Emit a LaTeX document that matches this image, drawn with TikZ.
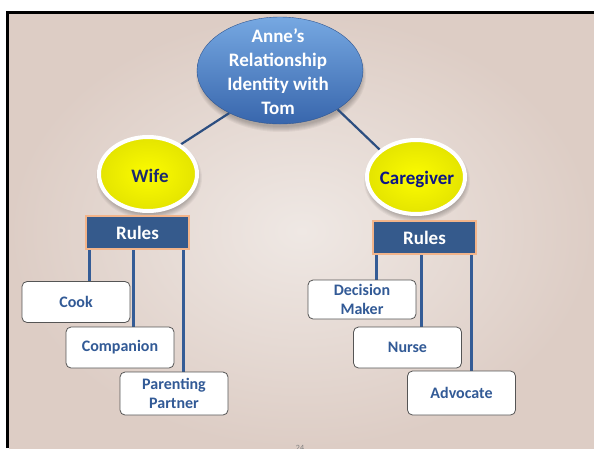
\documentclass[tikz,border=0pt]{standalone}
\usepackage{fontspec}
\setmainfont{Carlito}
\usetikzlibrary{shapes.geometric}

\definecolor{bgin}{RGB}{239,232,228}
\definecolor{bgout}{RGB}{221,205,197}
\definecolor{blueTop}{RGB}{118,168,226}
\definecolor{blueBot}{RGB}{56,102,172}
\definecolor{linkblue}{RGB}{44,78,128}
\definecolor{rulefill}{RGB}{53,90,140}
\definecolor{ruleedge}{RGB}{242,180,138}
\definecolor{stemblue}{RGB}{52,92,150}
\definecolor{boxtext}{RGB}{50,90,150}
\definecolor{boxedge}{RGB}{85,85,85}
\definecolor{yelIn}{RGB}{252,252,0}
\definecolor{yelOut}{RGB}{228,228,0}
\definecolor{wifetext}{RGB}{28,42,110}
\definecolor{caretext}{RGB}{12,22,135}

\pgfdeclarelayer{back}
\pgfdeclarelayer{links}
\pgfsetlayers{back,links,main}

\begin{document}
\begin{tikzpicture}[x=1pt,y=-1pt,
  hub/.style={ellipse, minimum width=166pt, minimum height=107pt, inner sep=0pt,
    top color=blueTop, bottom color=blueBot, draw=blueBot!85!black, line width=0.4pt},
  hubtext/.style={text=white, font=\fontsize{19}{24}\selectfont\bfseries,
    align=center, inner sep=0pt},
  role/.style={ellipse, minimum width=98pt, minimum height=74pt, inner sep=0pt,
    inner color=yelIn, outer color=yelOut, draw=white, line width=4pt},
  roletext/.style={font=\fontsize{19}{23}\selectfont\bfseries, inner sep=0pt},
  rulebox/.style={rectangle, minimum width=103pt, minimum height=33pt, inner sep=0pt,
    fill=rulefill, draw=ruleedge, line width=1.2pt, text=white,
    font=\fontsize{19}{23}\selectfont\bfseries},
  item/.style={rectangle, rounded corners=5pt, minimum width=108pt, minimum height=41pt,
    inner sep=0pt, fill=white, draw=boxedge, line width=0.8pt, text=boxtext,
    align=center, font=\fontsize{16}{19.5}\selectfont\bfseries},
  link/.style={draw=linkblue, line width=2.2pt},
  stem/.style={draw=stemblue, line width=3pt},
  softshadow/.style={fill=black, opacity=0.045},
]
\useasboundingbox (0,0) rectangle (594,448);

% slide backdrop and frame
\begin{pgfonlayer}{back}
  \fill[white] (0,0) rectangle (594,448);
  \shade[inner color=bgin, outer color=bgout] (9,14) rectangle (594,448);
  \draw[line width=3pt] (7.5,448) -- (7.5,12) -- (594,12);
  % soft shadows under the ellipses
  \foreach \k in {0,...,5} {
    \fill[softshadow] (281,76) ellipse [x radius={80+\k}, y radius={51+\k}];
    \fill[softshadow] (149,178) ellipse [x radius={48+\k}, y radius={36+\k}];
    \fill[softshadow] (417,181) ellipse [x radius={48+\k}, y radius={36+\k}];
  }
\end{pgfonlayer}

% top concept
\node[hub] (anne) at (280,70.5) {};
\node[hubtext] (annetext) at (278,72) {Anne’s\\Relationship\\Identity with\\Tom};

% the two roles
\node[role] (wife) at (148,174) {};
\node[roletext, text=wifetext] (wifetext) at (150,176) {Wife};
\node[role] (care) at (416,177) {};
\node[roletext, text=caretext] (caretext) at (417,179) {Caregiver};

% rule headers
\node[rulebox] (rulesL) at (137.5,232.5) {Rules};
\node[rulebox] (rulesR) at (424.5,237.5) {Rules};

% wife rules
\node[item] (cook) at (76,302) {Cook};
\node[item] (companion) at (120,347.5) {Companion};
\node[item, minimum height=43pt] (parenting) at (174,393.5) {Parenting\\Partner};

% caregiver rules
\node[item, minimum height=39pt] (decision) at (362,299.5) {Decision\\Maker};
\node[item] (nurse) at (407.5,347.5) {Nurse};
\node[item, minimum height=44pt] (advocate) at (461.5,393) {Advocate};

% connectors
\begin{pgfonlayer}{links}
  \draw[link] (anne.220) -- (wife.42);
  \draw[link] (anne.326) -- (care.143);

  \draw[stem] ([xshift=4pt]rulesL.south west) -- ([xshift=4pt]rulesL.south west |- cook.north);
  \draw[stem] ([xshift=48pt]rulesL.south west) -- ([xshift=48pt]rulesL.south west |- companion.north);
  \draw[stem] ([xshift=98pt]rulesL.south west) -- ([xshift=98pt]rulesL.south west |- parenting.north);

  \draw[stem] ([xshift=4pt]rulesR.south west) -- ([xshift=4pt]rulesR.south west |- decision.north);
  \draw[stem] ([xshift=49pt]rulesR.south west) -- ([xshift=49pt]rulesR.south west |- nurse.north);
  \draw[stem] ([xshift=99pt]rulesR.south west) -- ([xshift=99pt]rulesR.south west |- advocate.north);
\end{pgfonlayer}

% slide number, cut by the lower edge
\node[anchor=north, inner sep=0pt, text=gray, font=\fontsize{8}{9}\selectfont] (pagenum) at (300,445) {24};
\end{tikzpicture}
\end{document}
